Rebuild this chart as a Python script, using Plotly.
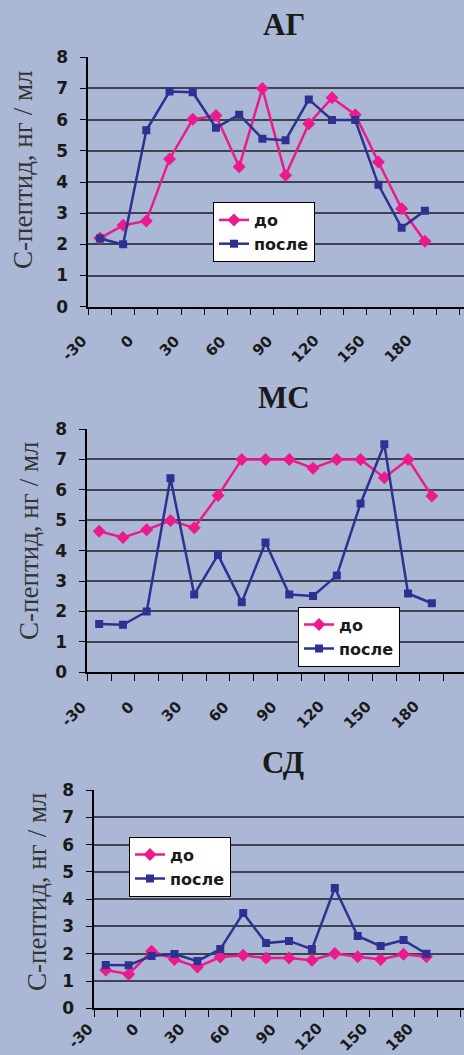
import plotly.graph_objects as go

# ---- data ----
minutes = [-30, -15, 0, 15, 30, 45, 60, 75, 90, 105, 120, 135, 150, 165, 180]
tick_labels = ["-30", "0", "30", "60", "90", "120", "150", "180"]
tick_label_vals = [-30, 0, 30, 60, 90, 120, 150, 180]

titles = ["АГ", "МС", "СД"]
series_names = ["до", "после"]

ag_do = [2.2, 2.61, 2.75, 4.74, 6.01, 6.13, 4.49, 7.0, 4.22, 5.87, 6.7, 6.16, 4.64, 3.14, 2.1]
ag_posle = [2.19, 2.0, 5.66, 6.9, 6.88, 5.74, 6.16, 5.39, 5.34, 6.65, 5.99, 5.99, 3.91, 2.53, 3.08]

ms_do = [4.64, 4.43, 4.69, 4.99, 4.75, 5.81, 7.0, 7.0, 7.0, 6.71, 7.0, 7.0, 6.4, 7.0, 5.8]
ms_posle = [1.59, 1.56, 2.0, 6.38, 2.56, 3.86, 2.3, 4.27, 2.56, 2.51, 3.18, 5.55, 7.5, 2.59, 2.27]

sd_do = [1.4, 1.25, 2.09, 1.79, 1.51, 1.88, 1.94, 1.84, 1.84, 1.76, 2.01, 1.89, 1.79, 1.98, 1.89]
sd_posle = [1.59, 1.58, 1.92, 1.99, 1.73, 2.17, 3.49, 2.39, 2.47, 2.17, 4.41, 2.65, 2.28, 2.5, 2.0]

y_title = "С-пептид, нг / мл"

# ---- style ----
W, H = 464, 1055
BG = "#AAB8D5"
PINK = "#EC1A8C"
NAVY = "#2E3192"
GRID = "#40424F"
TXT = "#1a1a1a"
SANS = "DejaVu Sans, Arial, sans-serif"
SERIF = "Liberation Serif, Times New Roman, serif"

panels = [
    dict(do=ag_do, posle=ag_posle, left=88.3, top=57.3, bottom=306.7, xr=205.3,
         title_xy=(284, 24), ylab_xy=(23, 170), leg_xy=(213, 202), lab_off=24),
    dict(do=ms_do, posle=ms_posle, left=87.3, top=429, bottom=672.3, xr=200.3,
         title_xy=(283.5, 397.5), ylab_xy=(29, 541), leg_xy=(298, 606.7), lab_off=24),
    dict(do=sd_do, posle=sd_posle, left=94.3, top=790, bottom=1008.3, xr=204.6,
         title_xy=(282.5, 762), ylab_xy=(37, 892), leg_xy=(129, 836.7), lab_off=10),
]

fig = go.Figure()
layout = dict(
    width=W, height=H,
    margin=dict(l=0, r=0, t=0, b=0, autoexpand=False),
    paper_bgcolor=BG, plot_bgcolor=BG,
    showlegend=True,
    annotations=[],
)

for i, p in enumerate(panels):
    n = "" if i == 0 else str(i + 1)
    xa, ya, lg = "x" + n, "y" + n, "legend" + n
    fig.add_trace(go.Scatter(
        x=minutes, y=p["do"], name=series_names[0], mode="lines+markers",
        line=dict(color=PINK, width=2.5),
        marker=dict(symbol="diamond", size=10, color=PINK),
        xaxis=xa, yaxis=ya, legend=lg))
    fig.add_trace(go.Scatter(
        x=minutes, y=p["posle"], name=series_names[1], mode="lines+markers",
        line=dict(color=NAVY, width=2.5),
        marker=dict(symbol="square", size=8, color=NAVY),
        xaxis=xa, yaxis=ya, legend=lg))

    layout["xaxis" + n] = dict(
        domain=[p["left"] / W, 1.0], range=[-37.5, p["xr"]], anchor=ya,
        showticklabels=False, ticks="", automargin=False,
        showgrid=False, zeroline=False,
        showline=True, linecolor="black", linewidth=1.5,
        minor=dict(ticks="outside", ticklen=7, tickcolor="black", tickwidth=1.2,
                   tickmode="linear", tick0=-37.5, dtick=15, showgrid=False),
        fixedrange=True,
    )
    layout["yaxis" + n] = dict(
        domain=[1 - p["bottom"] / H, 1 - p["top"] / H], range=[0, 8], dtick=1,
        anchor=xa, ticks="outside", ticklen=7, tickcolor="black", tickwidth=1.2,
        ticklabelstandoff=8, automargin=False,
        tickfont=dict(family=SANS, size=17, color=TXT, weight="bold"),
        showgrid=True, gridcolor=GRID, gridwidth=1.5, zeroline=False,
        showline=True, linecolor="black", linewidth=1.5,
        fixedrange=True,
    )
    layout[lg] = dict(
        x=p["leg_xy"][0] / W, y=1 - p["leg_xy"][1] / H, xanchor="left", yanchor="top",
        bgcolor="white", bordercolor="black", borderwidth=1,
        font=dict(family=SANS, size=16, color=TXT, weight="bold"),
        tracegroupgap=0,
    )
    # panel title
    layout["annotations"].append(dict(
        text=titles[i], xref="paper", yref="paper",
        x=p["title_xy"][0] / W, y=1 - p["title_xy"][1] / H,
        xanchor="center", yanchor="middle", showarrow=False,
        font=dict(family=SERIF, size=31, color=TXT, weight="bold"),
    ))
    # y axis title
    layout["annotations"].append(dict(
        text=y_title, xref="paper", yref="paper",
        x=p["ylab_xy"][0] / W, y=1 - p["ylab_xy"][1] / H,
        xanchor="center", yanchor="middle", showarrow=False, textangle=-90,
        font=dict(family=SERIF, size=27, color="#333333"),
    ))
    # rotated category labels (Excel style: end of text just left of the category)
    for v, t in zip(tick_label_vals, tick_labels):
        layout["annotations"].append(dict(
            text=t, xref=xa, yref="paper", x=v, y=1 - (p["bottom"] + p["lab_off"]) / H,
            xanchor="right", yanchor="top", xshift=-8, showarrow=False,
            textangle=-45, borderpad=0,
            font=dict(family=SANS, size=15, color=TXT, weight="bold"),
        ))

fig.update_layout(**layout)

fig.write_html("out.html", config={"displayModeBar": False},
               post_script="document.body.style.margin='0';document.body.style.overflow='hidden';")
